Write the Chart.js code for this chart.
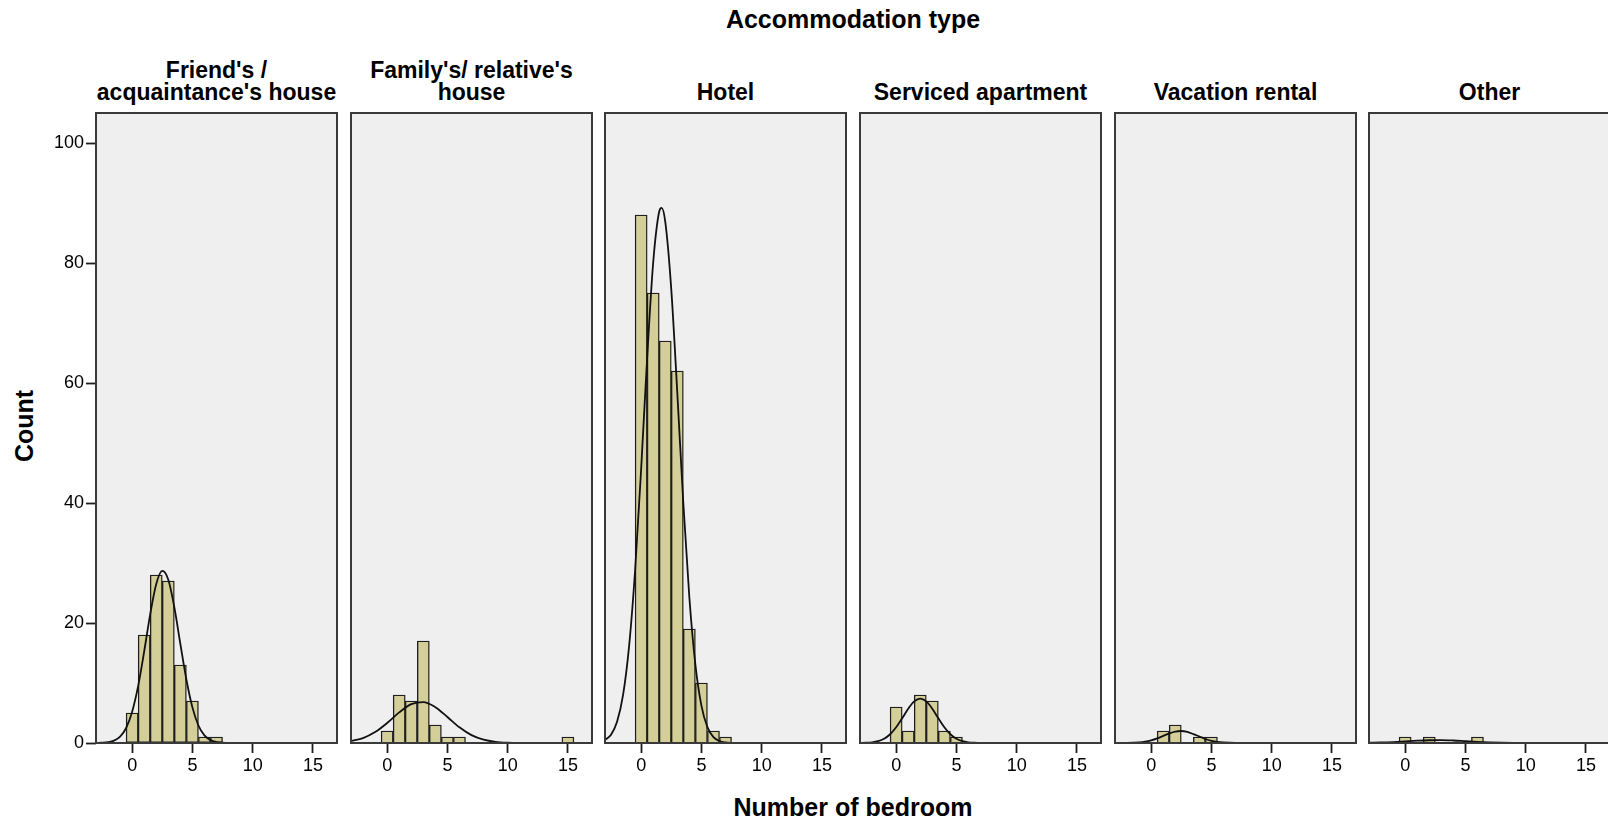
<!DOCTYPE html>
<html>
<head>
<meta charset="utf-8">
<script src="https://cdn.jsdelivr.net/npm/chart.js@4.4.1/dist/chart.umd.min.js"></script>
<style>
  body { margin: 0; background: #fff; width: 1608px; height: 819px; overflow: hidden; position: relative; font-family: "Liberation Sans", Arial, sans-serif; }
  canvas { position: absolute; }
  .t { position: absolute; font-weight: bold; color: #000; white-space: pre-line; text-align: center; }
</style>
</head>
<body>
<div class="t" id="mainTitle" style="left:853px;top:19px;transform:translate(-50%,-50%);font-size:25px;">Accommodation type</div>
<div class="t" id="xTitle" style="left:853px;top:807px;transform:translate(-50%,-50%);font-size:25px;">Number of bedroom</div>
<div class="t" id="yTitle" style="left:24px;top:426px;transform:translate(-50%,-50%) rotate(-90deg);font-size:25px;">Count</div>

<script>
// data
const xTickLabels = [0, 5, 10, 15];
const yTickLabels = [0, 20, 40, 60, 80, 100];
const panelTitles = ["Friend's /\nacquaintance's house", "Family's/ relative's\nhouse", "Hotel", "Serviced apartment", "Vacation rental", "Other"];

// histogram bins (number of bedrooms) and counts
const friendBins = [0, 1, 2, 3, 4, 5, 6, 7];
const friendCounts = [5, 18, 28, 27, 13, 7, 1, 1];
const familyBins = [0, 1, 2, 3, 4, 5, 6, 7, 8, 9, 10, 11, 12, 13, 14, 15];
const familyCounts = [2, 8, 7, 17, 3, 1, 1, 0, 0, 0, 0, 0, 0, 0, 0, 1];
const hotelBins = [0, 1, 2, 3, 4, 5, 6, 7];
const hotelCounts = [88, 75, 67, 62, 19, 10, 2, 1];
const servicedBins = [0, 1, 2, 3, 4, 5];
const servicedCounts = [6, 2, 8, 7, 2, 1];
const vacationBins = [0, 1, 2, 3, 4, 5];
const vacationCounts = [0, 2, 3, 0, 1, 1];
const otherBins = [0, 1, 2, 3, 4, 5, 6];
const otherCounts = [1, 0, 1, 0, 0, 0, 1];

// normal curves, points
const friendCurveX = [-3, -2.5, -2, -1.5, -1, -0.5, 0, 0.5, 1, 1.5, 2, 2.5, 3, 3.5, 4, 4.5, 5, 5.5, 6, 6.5, 7, 7.5, 8, 17];
const friendCurveY = [0.01, 0.04, 0.13, 0.39, 1.05, 2.5, 5.21, 9.52, 15.27, 21.49, 26.51, 28.68, 27.22, 22.64, 16.52, 10.58, 5.94, 2.92, 1.26, 0.48, 0.16, 0.05, 0.01, 0];
const familyCurveX = [-3, -2, -1, 0, 1, 2, 3, 4, 5, 6, 7, 8, 9, 10, 11, 17];
const familyCurveY = [0.31, 0.82, 1.82, 3.34, 5.1, 6.47, 6.82, 5.97, 4.33, 2.61, 1.31, 0.55, 0.19, 0.05, 0.01, 0];
const hotelCurveX = [-3, -2.5, -2, -1.5, -1, -0.5, 0, 0.5, 1, 1.5, 1.7, 2, 2.5, 3, 3.5, 4, 4.5, 5, 5.5, 6, 6.5, 7, 7.5, 8, 17];
const hotelCurveY = [0.48, 1.38, 3.53, 8.02, 16.15, 28.84, 45.69, 64.25, 80.09, 88.58, 89.2, 86.9, 75.61, 58.37, 39.96, 24.26, 13.07, 6.24, 2.65, 0.99, 0.33, 0.1, 0.03, 0.01, 0];
const servicedCurveX = [-3, -2.5, -2, -1.5, -1, -0.5, 0, 0.5, 1, 1.5, 2, 2.5, 3, 3.5, 4, 4.5, 5, 5.5, 6, 6.5, 7, 17];
const servicedCurveY = [0.01, 0.04, 0.12, 0.31, 0.71, 1.46, 2.62, 4.12, 5.71, 6.93, 7.4, 6.93, 5.71, 4.12, 2.62, 1.46, 0.71, 0.31, 0.12, 0.04, 0.01, 0];
const vacationCurveX = [-3, -2, -1, -0.5, 0, 0.5, 1, 1.5, 2, 2.5, 3, 3.5, 4, 4.5, 5, 5.5, 6, 7, 17];
const vacationCurveY = [0, 0.01, 0.1, 0.22, 0.44, 0.77, 1.19, 1.6, 1.91, 2.0, 1.84, 1.49, 1.07, 0.67, 0.37, 0.18, 0.08, 0.01, 0];
const otherCurveX = [-3, -2, -1, 0, 1, 2, 3, 4, 5, 6, 7, 8, 9, 10, 17];
const otherCurveY = [0.04, 0.08, 0.16, 0.27, 0.38, 0.46, 0.48, 0.42, 0.31, 0.2, 0.11, 0.05, 0.02, 0.01, 0];

const panels = [
  { bins: friendBins, counts: friendCounts, cx: friendCurveX, cy: friendCurveY },
  { bins: familyBins, counts: familyCounts, cx: familyCurveX, cy: familyCurveY },
  { bins: hotelBins, counts: hotelCounts, cx: hotelCurveX, cy: hotelCurveY },
  { bins: servicedBins, counts: servicedCounts, cx: servicedCurveX, cy: servicedCurveY },
  { bins: vacationBins, counts: vacationCounts, cx: vacationCurveX, cy: vacationCurveY },
  { bins: otherBins, counts: otherCounts, cx: otherCurveX, cy: otherCurveY }
];

// layout
const panelLeft = [96, 351, 605, 860, 1115, 1369];
const panelWidth = 241;
const areaTop = 113;
const areaBottom = 743;
const yAxisWidth = 96;
const xAxisHeight = 40;

// grey panel background and frame
const panelFrame = {
  id: 'panelFrame',
  beforeDraw(chart) {
    const { ctx, chartArea: a } = chart;
    ctx.save();
    ctx.fillStyle = '#efefef';
    ctx.fillRect(a.left, a.top, a.right - a.left, a.bottom - a.top);
    ctx.restore();
  },
  afterDraw(chart) {
    const { ctx, chartArea: a } = chart;
    ctx.save();
    ctx.strokeStyle = '#3a3a3a';
    ctx.lineWidth = 2;
    ctx.strokeRect(a.left, a.top, a.right - a.left, a.bottom - a.top);
    ctx.restore();
  }
};

panels.forEach((p, i) => {
  const first = i === 0;
  const canvas = document.createElement('canvas');
  const left = first ? 0 : panelLeft[i] - 2;
  const top = areaTop - 3;
  const w = (first ? yAxisWidth : 2) + panelWidth + 2;
  const h = areaBottom - top + xAxisHeight;
  canvas.width = w;
  canvas.height = h;
  canvas.style.left = left + 'px';
  canvas.style.top = top + 'px';
  document.body.appendChild(canvas);

  const title = document.createElement('div');
  title.className = 't';
  title.textContent = panelTitles[i];
  title.style.cssText = 'left:' + (panelLeft[i] + panelWidth / 2) + 'px;bottom:' + (819 - 103) + 'px;transform:translateX(-50%);font-size:23px;line-height:22px;';
  document.body.appendChild(title);

  new Chart(canvas.getContext('2d'), {
    type: 'bar',
    data: {
      datasets: [
        {
          type: 'line',
          data: p.cx.map((x, k) => ({ x: x, y: p.cy[k] })),
          borderColor: '#111',
          borderWidth: 1.8,
          pointRadius: 0,
          cubicInterpolationMode: 'monotone',
          fill: false,
          order: 0
        },
        {
          type: 'bar',
          data: p.bins.map((b, k) => ({ x: b, y: p.counts[k] })),
          backgroundColor: '#d4cf99',
          borderColor: '#1e1e1e',
          borderWidth: c => (c.raw && c.raw.y > 0 ? 1.4 : 0),
          borderSkipped: false,
          barPercentage: 1,
          categoryPercentage: 1,
          order: 1
        }
      ]
    },
    options: {
      responsive: false,
      animation: false,
      layout: { padding: { left: first ? 0 : 2, right: 2, top: 3, bottom: 0 } },
      plugins: { legend: { display: false }, tooltip: { enabled: false } },
      scales: {
        x: {
          type: 'linear',
          min: -3,
          max: 17,
          offset: false,
          afterBuildTicks: s => { s.ticks = xTickLabels.map(v => ({ value: v })); },
          afterFit: s => { s.height = xAxisHeight; s.paddingLeft = 0; s.paddingRight = 0; },
          border: { display: false },
          grid: { offset: false, drawOnChartArea: false, drawTicks: true, tickLength: 10, tickColor: '#1e1e1e', tickWidth: 1.8 },
          ticks: { color: '#000', font: { size: 18, family: '"Liberation Sans", Arial' }, padding: 2, maxRotation: 0, autoSkip: false }
        },
        y: {
          display: first,
          min: 0,
          max: 105,
          afterBuildTicks: s => { s.ticks = yTickLabels.map(v => ({ value: v })); },
          afterFit: s => { s.width = first ? yAxisWidth : 0; s.paddingTop = 0; s.paddingBottom = 0; },
          border: { display: false },
          grid: { offset: false, drawOnChartArea: false, drawTicks: true, tickLength: 10, tickColor: '#1e1e1e', tickWidth: 1.8 },
          ticks: { color: '#000', font: { size: 18, family: '"Liberation Sans", Arial' }, padding: 2 }
        }
      }
    },
    plugins: [panelFrame]
  });
});
</script>
</body>
</html>
